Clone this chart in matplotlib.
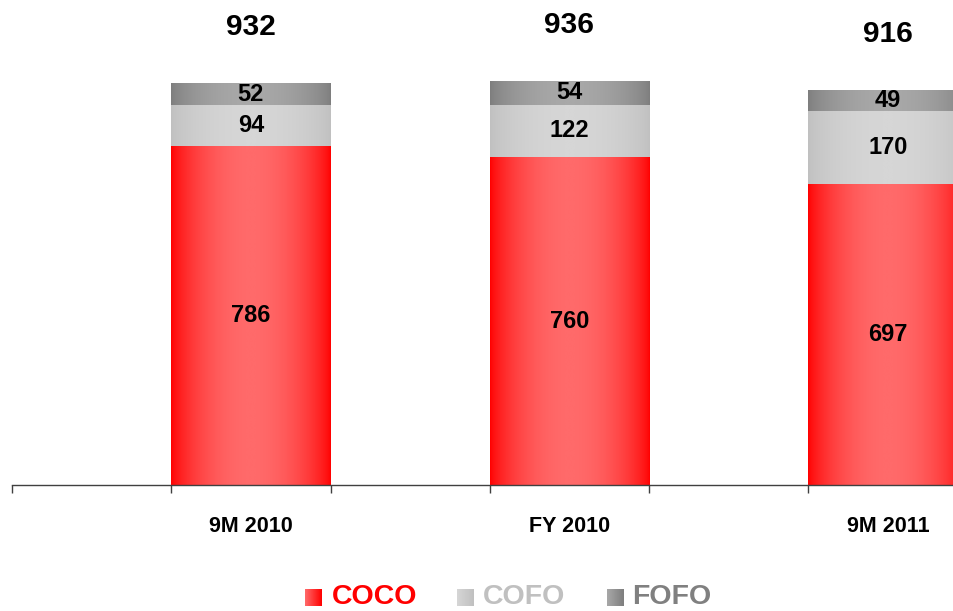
import numpy as np
import matplotlib
matplotlib.use("Agg")
import matplotlib.pyplot as plt
from matplotlib.colors import LinearSegmentedColormap

plt.rcParams['font.family'] = ['Liberation Sans', 'DejaVu Sans']
plt.rcParams['font.weight'] = 'bold'

categories = ["9M 2010", "FY 2010", "9M 2011"]
coco = [786, 760, 697]
cofo = [94, 122, 170]
fofo = [52, 54, 49]
totals = [932, 936, 916]
series_names = ["COCO", "COFO", "FOFO"]

# (edge colour, centre colour) for the horizontal gradients
grad_colors = [("#FF0000", "#FF6A6A"), ("#C0C0C0", "#D6D6D6"), ("#7E7E7E", "#A8A8A8")]
legend_text_colors = ["#FF0000", "#C0C0C0", "#808080"]

W, H = 954, 611
fig = plt.figure(figsize=(W / 100, H / 100), dpi=100)
base_px = 485
ax = fig.add_axes([12 / W, (H - base_px) / H, 942 / W, base_px / H])

x = np.arange(len(categories))
width = 0.5
px_per_unit = 402 / 932
ymax = base_px / px_per_unit
xmin = -0.75
xmax = xmin + 942 / 318.5

t = np.linspace(0, 1, 256)
profile = (np.sin(np.pi * t) ** 0.7).reshape(1, -1)

stacks = [coco, cofo, fofo]
bottom = np.zeros(len(categories))
for vals, (ce, cm) in zip(stacks, grad_colors):
    bars = ax.bar(x, vals, width, bottom=bottom, color='none', edgecolor='none')
    cmap = LinearSegmentedColormap.from_list("g", [ce, cm])
    for rect in bars:
        x0, y0 = rect.get_x(), rect.get_y()
        w, h = rect.get_width(), rect.get_height()
        im = ax.imshow(profile, cmap=cmap, vmin=0, vmax=1, aspect='auto',
                       extent=[x0, x0 + w, y0, y0 + h], interpolation='bilinear', zorder=2)
        im.set_clip_path(rect)
    for xi, b, v in zip(x, bottom, vals):
        ax.text(xi, b + v / 2, str(v), ha='center', va='center', fontsize=17,
                fontweight='bold', color='black', zorder=5)
    bottom = bottom + np.array(vals)

for xi, tot in zip(x, totals):
    ax.text(xi, tot + 130, str(tot), ha='center', va='center', fontsize=21.5,
            fontweight='bold', color='black', zorder=5)

ax.set_xlim(xmin, xmax)
ax.set_ylim(0, ymax)
for s in ['top', 'right', 'left']:
    ax.spines[s].set_visible(False)
ax.spines['bottom'].set_color('#404040')
ax.spines['bottom'].set_linewidth(1.0)
ax.spines['bottom'].set_zorder(6)
ax.set_yticks([])
ax.set_xticks(np.arange(xmin, xmax, 0.5))
ax.set_xticklabels([])
ax.tick_params(axis='x', which='major', direction='out', length=6, width=1, color='#404040')
ax.set_xticks(x, minor=True)
ax.set_xticklabels(categories, minor=True, fontsize=15.5, fontweight='bold')
ax.tick_params(axis='x', which='minor', length=0, pad=22)
ax.patch.set_alpha(0)

# legend drawn in pixel coordinates
lax = fig.add_axes([0, 0, 1, 1], zorder=10)
lax.set_xlim(0, W)
lax.set_ylim(H, 0)
lax.axis('off')
leg_sq_x = [305, 457, 607]
leg_txt_x = [332, 483, 632]
for sx, tx, name, (ce, cm), tc in zip(leg_sq_x, leg_txt_x, series_names, grad_colors, legend_text_colors):
    cmap = LinearSegmentedColormap.from_list("l", [cm, ce])
    lax.imshow(np.linspace(0, 1, 64).reshape(1, -1), cmap=cmap, aspect='auto',
               extent=[sx, sx + 17, 606, 589], interpolation='bilinear')
    lax.text(tx, 604, name, ha='left', va='baseline', fontsize=20.5, fontweight='bold', color=tc)
lax.set_xlim(0, W)
lax.set_ylim(H, 0)

fig.savefig("out.png", dpi=100)
